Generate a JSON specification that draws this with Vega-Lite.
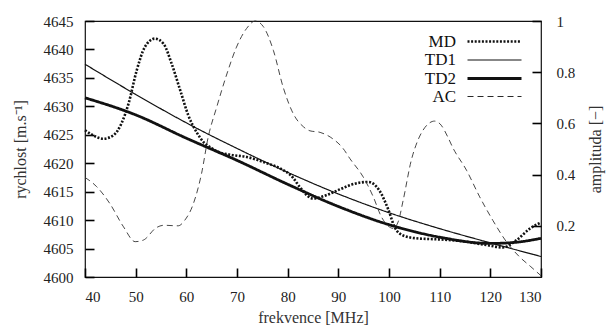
{
  "$schema": "https://vega.github.io/schema/vega-lite/v6.json",
  "width": 456,
  "height": 256,
  "autosize": {"type": "none"},
  "padding": {"left": 85, "top": 21, "right": 66, "bottom": 52},
  "background": "white",
  "config": {
    "view": {"stroke": "#111", "strokeWidth": 1.2},
    "font": "Liberation Serif",
    "axis": {
      "labelFont": "Liberation Serif",
      "titleFont": "Liberation Serif",
      "labelFontSize": 15,
      "titleFontSize": 16,
      "labelColor": "#222",
      "titleColor": "#333",
      "titleFontWeight": "normal",
      "grid": false,
      "domain": false,
      "ticks": true,
      "tickColor": "black",
      "tickOpacity": 1,
      "tickWidth": 1.6,
      "zindex": 1
    },
    "legend": {
      "labelFont": "Liberation Serif",
      "labelFontSize": 17,
      "labelColor": "#111"
    }
  },
  "data": {
    "values": [
      {"s": "MD", "f": 40, "v": 4625.8}, {"s": "MD", "f": 41.6, "v": 4624.9}, {"s": "MD", "f": 43.6, "v": 4624.3}, {"s": "MD", "f": 45.6, "v": 4624.9}, {"s": "MD", "f": 47.2, "v": 4627.0}, {"s": "MD", "f": 48.6, "v": 4630.5}, {"s": "MD", "f": 50.2, "v": 4636.3}, {"s": "MD", "f": 51.8, "v": 4640.4}, {"s": "MD", "f": 53.8, "v": 4641.9}, {"s": "MD", "f": 55.5, "v": 4641.0}, {"s": "MD", "f": 57.1, "v": 4637.5}, {"s": "MD", "f": 58.8, "v": 4632.8}, {"s": "MD", "f": 60.4, "v": 4628.4}, {"s": "MD", "f": 62, "v": 4625.5}, {"s": "MD", "f": 63.4, "v": 4623.7}, {"s": "MD", "f": 64.7, "v": 4622.8}, {"s": "MD", "f": 66, "v": 4622.1}, {"s": "MD", "f": 68.6, "v": 4621.5}, {"s": "MD", "f": 71.9, "v": 4621.1}, {"s": "MD", "f": 75.9, "v": 4620.0}, {"s": "MD", "f": 78.5, "v": 4619.1}, {"s": "MD", "f": 81.1, "v": 4617.4}, {"s": "MD", "f": 82.4, "v": 4615.8}, {"s": "MD", "f": 85, "v": 4613.8}, {"s": "MD", "f": 87.7, "v": 4614.4}, {"s": "MD", "f": 90.3, "v": 4615.4}, {"s": "MD", "f": 93.2, "v": 4616.4}, {"s": "MD", "f": 95.9, "v": 4616.7}, {"s": "MD", "f": 98.1, "v": 4615.2}, {"s": "MD", "f": 99.8, "v": 4612.0}, {"s": "MD", "f": 101.1, "v": 4608.8}, {"s": "MD", "f": 102.8, "v": 4607.3}, {"s": "MD", "f": 105.4, "v": 4606.8}, {"s": "MD", "f": 110, "v": 4606.6}, {"s": "MD", "f": 115.3, "v": 4606.2}, {"s": "MD", "f": 119.3, "v": 4605.6}, {"s": "MD", "f": 122.5, "v": 4605.2}, {"s": "MD", "f": 125.2, "v": 4606.5}, {"s": "MD", "f": 127.8, "v": 4608.5}, {"s": "MD", "f": 130, "v": 4609.6},
      {"s": "TD1", "f": 40, "v": 4637.4}, {"s": "TD1", "f": 50, "v": 4632.1}, {"s": "TD1", "f": 60, "v": 4627.1}, {"s": "TD1", "f": 70, "v": 4622.6}, {"s": "TD1", "f": 80, "v": 4618.4}, {"s": "TD1", "f": 90, "v": 4614.6}, {"s": "TD1", "f": 100, "v": 4611.3}, {"s": "TD1", "f": 110, "v": 4608.5}, {"s": "TD1", "f": 120, "v": 4606.0}, {"s": "TD1", "f": 130, "v": 4603.6},
      {"s": "TD2", "f": 40, "v": 4631.5}, {"s": "TD2", "f": 50, "v": 4628.5}, {"s": "TD2", "f": 60, "v": 4624.4}, {"s": "TD2", "f": 70, "v": 4620.5}, {"s": "TD2", "f": 80, "v": 4616.3}, {"s": "TD2", "f": 90, "v": 4612.4}, {"s": "TD2", "f": 100, "v": 4609.2}, {"s": "TD2", "f": 110, "v": 4607.0}, {"s": "TD2", "f": 120, "v": 4605.9}, {"s": "TD2", "f": 125, "v": 4606.1}, {"s": "TD2", "f": 130, "v": 4606.8},
      {"s": "AC", "f": 40, "a": 0.389}, {"s": "AC", "f": 42.3, "a": 0.353}, {"s": "AC", "f": 44.9, "a": 0.287}, {"s": "AC", "f": 47.6, "a": 0.196}, {"s": "AC", "f": 49.9, "a": 0.138}, {"s": "AC", "f": 51.5, "a": 0.144}, {"s": "AC", "f": 54.1, "a": 0.193}, {"s": "AC", "f": 55.5, "a": 0.202}, {"s": "AC", "f": 58.4, "a": 0.2}, {"s": "AC", "f": 59.7, "a": 0.222}, {"s": "AC", "f": 61.4, "a": 0.287}, {"s": "AC", "f": 63, "a": 0.404}, {"s": "AC", "f": 64.3, "a": 0.545}, {"s": "AC", "f": 66, "a": 0.664}, {"s": "AC", "f": 68, "a": 0.793}, {"s": "AC", "f": 69.9, "a": 0.898}, {"s": "AC", "f": 71.9, "a": 0.971}, {"s": "AC", "f": 73.6, "a": 1.0}, {"s": "AC", "f": 75.2, "a": 0.978}, {"s": "AC", "f": 77.2, "a": 0.884}, {"s": "AC", "f": 79.1, "a": 0.742}, {"s": "AC", "f": 81.1, "a": 0.638}, {"s": "AC", "f": 83.1, "a": 0.587}, {"s": "AC", "f": 84.4, "a": 0.571}, {"s": "AC", "f": 86.4, "a": 0.565}, {"s": "AC", "f": 88.9, "a": 0.54}, {"s": "AC", "f": 90.9, "a": 0.503}, {"s": "AC", "f": 92.3, "a": 0.462}, {"s": "AC", "f": 94.9, "a": 0.391}, {"s": "AC", "f": 96.9, "a": 0.313}, {"s": "AC", "f": 98.5, "a": 0.235}, {"s": "AC", "f": 99.8, "a": 0.2}, {"s": "AC", "f": 100.8, "a": 0.19}, {"s": "AC", "f": 101.8, "a": 0.215}, {"s": "AC", "f": 102.8, "a": 0.3}, {"s": "AC", "f": 104.4, "a": 0.456}, {"s": "AC", "f": 105.7, "a": 0.534}, {"s": "AC", "f": 106.7, "a": 0.573}, {"s": "AC", "f": 108, "a": 0.602}, {"s": "AC", "f": 109, "a": 0.609}, {"s": "AC", "f": 110.3, "a": 0.593}, {"s": "AC", "f": 111.6, "a": 0.547}, {"s": "AC", "f": 112.6, "a": 0.505}, {"s": "AC", "f": 115.3, "a": 0.417}, {"s": "AC", "f": 117.9, "a": 0.313}, {"s": "AC", "f": 120.5, "a": 0.221}, {"s": "AC", "f": 123.2, "a": 0.137}, {"s": "AC", "f": 125.8, "a": 0.078}, {"s": "AC", "f": 128, "a": 0.04}, {"s": "AC", "f": 130, "a": 0.005}
    ]
  },
  "encoding": {
    "x": {
      "field": "f", "type": "quantitative",
      "scale": {"domain": [40, 130], "nice": false, "zero": false},
      "axis": {"values": [40, 50, 60, 70, 80, 90, 100, 110, 120, 130], "title": "frekvence [MHz]", "offset": -9, "tickSize": 9, "tickColor": "black", "tickWidth": 1.6, "labelPadding": 12, "titlePadding": 5, "format": "d"}
    },
    "strokeDash": {
      "field": "s", "type": "nominal",
      "scale": {"domain": ["MD", "TD1", "TD2", "AC"], "range": [[2, 1.6], [1, 0], [1, 0], [6, 4]]},
      "legend": {
        "title": null, "orient": "none", "legendX": 399, "legendY": 10,
        "symbolType": "M-3,0H3", "symbolSize": 324, "symbolStrokeColor": "#111", "symbolFillColor": "transparent",
        "labelAlign": "right", "labelOffset": -49, "rowPadding": 0, "padding": 0
      }
    },
    "strokeWidth": {
      "field": "s", "type": "nominal",
      "scale": {"type": "ordinal", "domain": ["MD", "TD1", "TD2", "AC"], "range": [2.6, 1.2, 2.8, 0.9]},
      "legend": null
    }
  },
  "layer": [
    {
      "transform": [{"filter": "datum.s !== 'AC'"}],
      "mark": {"type": "line", "interpolate": "monotone", "color": "#111", "strokeCap": "butt"},
      "encoding": {
        "y": {
          "field": "v", "type": "quantitative",
          "scale": {"domain": [4600, 4645], "nice": false, "zero": false},
          "axis": {"values": [4600, 4605, 4610, 4615, 4620, 4625, 4630, 4635, 4640, 4645], "format": "d", "title": "rychlost [m.s⁻¹]", "offset": -9, "tickSize": 9, "tickColor": "black", "tickWidth": 1.6, "labelPadding": 12, "titlePadding": 15}
        }
      }
    },
    {
      "transform": [{"filter": "datum.s === 'AC'"}],
      "mark": {"type": "line", "interpolate": "monotone", "color": "#333", "strokeCap": "butt"},
      "encoding": {
        "y": {
          "field": "a", "type": "quantitative",
          "scale": {"domain": [0, 1], "nice": false},
          "axis": {"orient": "right", "values": [0.2, 0.4, 0.6, 0.8, 1], "format": "~g", "title": "amplituda [−]", "titleAngle": 270, "offset": -9, "tickSize": 9, "tickColor": "black", "tickWidth": 1.6, "labelPadding": 15, "titlePadding": 29}
        }
      }
    }
  ],
  "resolve": {"scale": {"y": "independent"}}
}
